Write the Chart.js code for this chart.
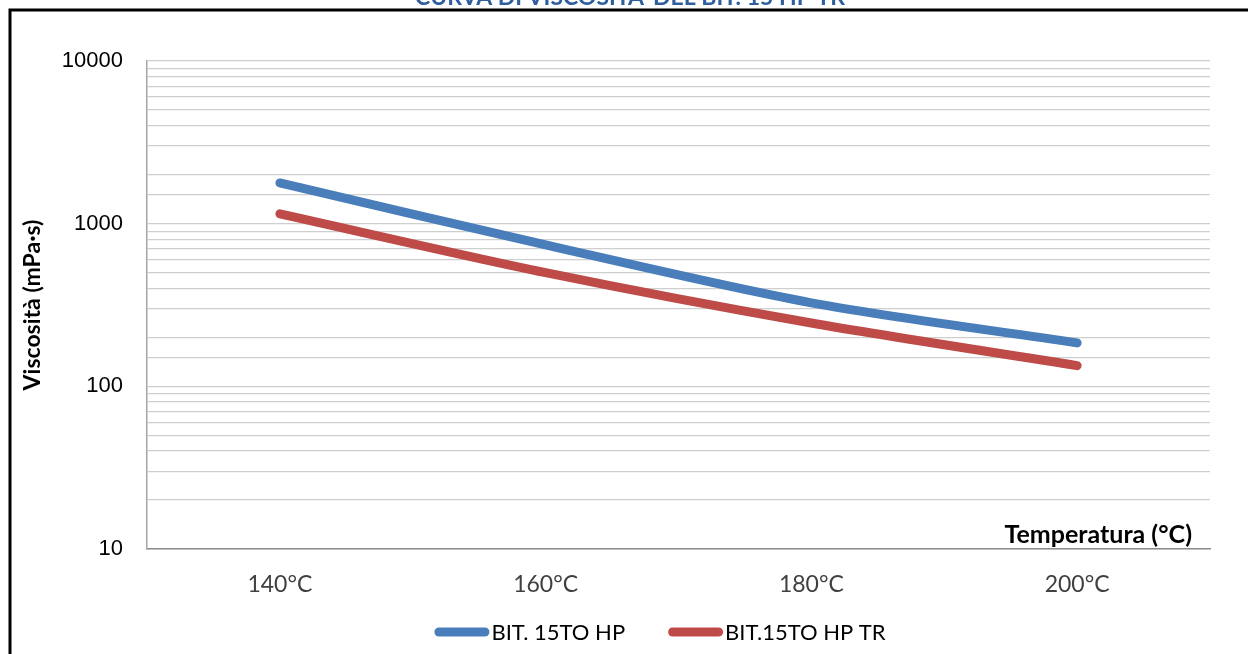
<!DOCTYPE html>
<html>
<head>
<meta charset="utf-8">
<script src="https://cdn.jsdelivr.net/npm/chart.js@4.4.0/dist/chart.umd.min.js"></script>
<style>
  html, body { margin: 0; padding: 0; background: #fff; }
  #wrap { position: relative; width: 1248px; height: 654px; overflow: hidden; }
</style>
</head>
<body>
<div id="wrap"><canvas id="viscChart" width="1248" height="654"></canvas></div>
<script>
// Curva di viscosità - BIT. 15TO HP vs BIT.15TO HP TR

const temperature = ['140°C', '160°C', '180°C', '200°C'];
const bitHp = [1780, 740, 326, 185];
const bitHpTr = [1150, 500, 245, 134];
const yLabels = [10, 100, 1000, 10000];

const chartTitle = "CURVA DI VISCOSITA' DEL BIT. 15 HP TR";
const xTitle = 'Temperatura (°C)';
const yTitle = 'Viscosità (mPa·s)';

// frame, clipped title, x axis title and legend drawn by hand
const extras = {
    id: 'extras',
    beforeDraw(chart) {
        const ctx = chart.ctx;
        ctx.save();
        ctx.strokeStyle = '#000';
        ctx.lineWidth = 3;
        ctx.beginPath();
        ctx.moveTo(10, 700);
        ctx.lineTo(10, 10);
        ctx.lineTo(1300, 10);
        ctx.stroke();
        ctx.restore();
    },
    afterDraw(chart) {
        const ctx = chart.ctx;
        const area = chart.chartArea;
        ctx.save();
        ctx.fillStyle = '#2F5E9E';
        ctx.font = 'bold 23px Lato';
        ctx.textAlign = 'center';
        ctx.textBaseline = 'alphabetic';
        ctx.fillText(chartTitle, 630, 5);

        ctx.fillStyle = '#000';
        ctx.font = 'bold 25px Lato';
        ctx.textAlign = 'right';
        ctx.textBaseline = 'middle';
        ctx.fillText(xTitle, area.right - 18, area.bottom - 14);

        // legend: line swatch + label, centred like the original
        const boxW = 55, gap = 2, spacing = 43, legendY = 632, centre = 660;
        ctx.font = '22px Lato';
        const items = chart.data.datasets.map(ds => ({
            text: ds.label,
            color: ds.borderColor,
            w: ctx.measureText(ds.label).width
        }));
        let total = 0;
        items.forEach((it, i) => {
            total += boxW + gap + it.w + (i > 0 ? spacing : 0);
        });
        let x = centre - total / 2;
        ctx.textAlign = 'left';
        items.forEach(it => {
            ctx.strokeStyle = it.color;
            ctx.lineWidth = 9;
            ctx.lineCap = 'round';
            ctx.beginPath();
            ctx.moveTo(x + 4.5, legendY);
            ctx.lineTo(x + boxW - 4.5, legendY);
            ctx.stroke();
            ctx.fillStyle = '#000';
            ctx.fillText(it.text, x + boxW + gap, legendY + 1);
            x += boxW + gap + it.w + spacing;
        });
        ctx.restore();
    }
};

const ctx = document.getElementById('viscChart').getContext('2d');
new Chart(ctx, {
    type: 'line',
    data: {
        labels: temperature,
        datasets: [{
            label: 'BIT. 15TO HP',
            data: bitHp,
            borderColor: '#4A7EBB',
            backgroundColor: '#4A7EBB',
            borderWidth: 9,
            borderCapStyle: 'round',
            borderJoinStyle: 'round',
            pointRadius: 0,
            tension: 0.3,
            fill: false
        }, {
            label: 'BIT.15TO HP TR',
            data: bitHpTr,
            borderColor: '#BE4B48',
            backgroundColor: '#BE4B48',
            borderWidth: 9,
            borderCapStyle: 'round',
            borderJoinStyle: 'round',
            pointRadius: 0,
            tension: 0.3,
            fill: false
        }]
    },
    options: {
        responsive: false,
        animation: false,
        layout: {
            padding: { left: 0, right: 38, top: 61, bottom: 44 }
        },
        scales: {
            x: {
                offset: true,
                grid: { color: 'transparent', drawTicks: false },
                border: { display: true, color: '#8C8C8C', width: 1.5 },
                ticks: {
                    color: '#404040',
                    font: { family: 'Lato', size: 23 },
                    padding: 22
                },
                afterFit(scale) { scale.height = 61; }
            },
            y: {
                type: 'logarithmic',
                min: 10,
                max: 10000,
                grid: { color: '#CFCFCF', lineWidth: 1.2, drawTicks: false },
                border: { display: true, color: '#A6A6A6', width: 1.5 },
                ticks: {
                    color: '#000',
                    font: { family: 'Liberation Sans', size: 22 },
                    padding: 24,
                    autoSkip: false,
                    callback(value) {
                        return yLabels.includes(value) ? String(value) : '';
                    }
                },
                title: {
                    display: true,
                    text: yTitle,
                    color: '#000',
                    font: { family: 'Lato', size: 23, weight: 'bold' },
                    padding: { top: 19, bottom: 0 }
                },
                afterFit(scale) { scale.width = 147; }
            }
        },
        plugins: {
            legend: { display: false },
            title: { display: false },
            tooltip: { enabled: false }
        }
    },
    plugins: [extras]
});
</script>
</body>
</html>
